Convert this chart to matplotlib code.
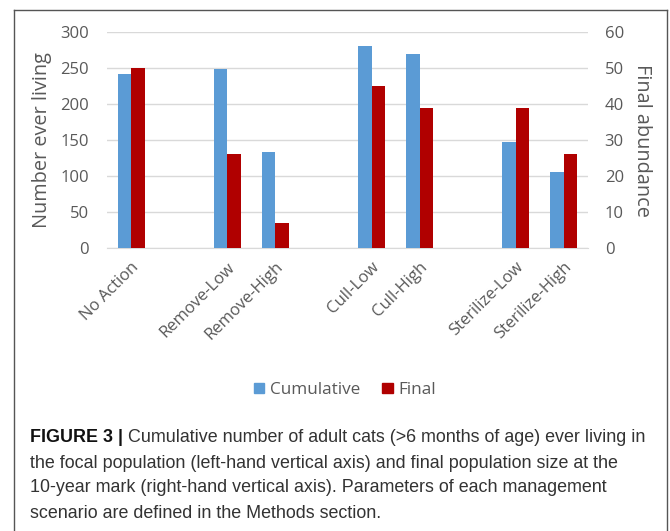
import matplotlib
matplotlib.use("Agg")
import matplotlib.pyplot as plt
from matplotlib.patches import Patch
from matplotlib.lines import Line2D

# Management scenarios (blank slots separate the scenario groups)
categories = ["No Action", "", "Remove-Low", "Remove-High", "",
              "Cull-Low", "Cull-High", "", "Sterilize-Low", "Sterilize-High"]
cumulative = [241, None, 248, 134, None, 281, 269, None, 147, 106]
final = [50, None, 26, 7, None, 45, 39, None, 39, 26]

left_ticks = [0, 50, 100, 150, 200, 250, 300]
right_ticks = [0, 10, 20, 30, 40, 50, 60]

BLUE = "#5B9BD5"
RED = "#B00000"
GREY = "#595959"
chart_font = ["Open Sans", "DejaVu Sans"]
caption_font = ["Liberation Sans Narrow", "Liberation Sans", "DejaVu Sans"]

fig = plt.figure(figsize=(6.70, 5.31), dpi=100)
W, H = 670, 531

# Frame around the figure panel
frame_kw = dict(transform=fig.transFigure, color="#555555", lw=1.0)
fig.add_artist(Line2D([14 / W, 14 / W], [0, 1 - 10 / H], **frame_kw))
fig.add_artist(Line2D([667 / W, 667 / W], [0, 1 - 10 / H], **frame_kw))
fig.add_artist(Line2D([14 / W, 667 / W], [1 - 10 / H, 1 - 10 / H], **frame_kw))

ax = fig.add_axes([107 / W, 1 - 248 / H, (588 - 107) / W, (248 - 32) / H])
ax2 = ax.twinx()

x = list(range(len(categories)))
bw = 0.28
bx = [i - bw / 2 for i, v in zip(x, cumulative) if v is not None]
bv = [v for v in cumulative if v is not None]
rx = [i + bw / 2 for i, v in zip(x, final) if v is not None]
rv = [v for v in final if v is not None]

ax.bar(bx, bv, width=bw, color=BLUE, zorder=3)
ax2.bar(rx, rv, width=bw, color=RED, zorder=3)

ax.set_xlim(-0.5, len(categories) - 0.5)
ax.set_ylim(0, 300)
ax2.set_ylim(0, 60)
ax.set_yticks(left_ticks)
ax2.set_yticks(right_ticks)
ax.grid(axis="y", color="#D9D9D9", lw=1.0, zorder=0)
ax.set_axisbelow(True)

for a in (ax, ax2):
    for s in a.spines.values():
        s.set_visible(False)
ax.spines["bottom"].set_visible(True)
ax.spines["bottom"].set_color("#D9D9D9")

ax.set_xticks(x)
ax.set_xticklabels(categories, rotation=45, ha="right", rotation_mode="anchor",
                   fontsize=12, color=GREY, family=chart_font)
ax.tick_params(axis="x", length=0, pad=8)
ax.tick_params(axis="y", length=0, pad=13, labelsize=12, labelcolor=GREY)
ax2.tick_params(axis="y", length=0, pad=12, labelsize=12, labelcolor=GREY)
for lab in ax.get_yticklabels() + ax2.get_yticklabels():
    lab.set_family(chart_font)

ax.set_ylabel("Number ever living", fontsize=14.3, color=GREY, family=chart_font, labelpad=6)
ax2.set_ylabel("Final abundance", fontsize=14.3, color=GREY, family=chart_font,
               rotation=270, labelpad=20)

handles = [Patch(color=BLUE, label="Cumulative"), Patch(color=RED, label="Final")]
fig.legend(handles=handles, loc="center", bbox_to_anchor=(345 / W, 1 - 390 / H), ncol=2,
           frameon=False, prop={"family": chart_font, "size": 12.3}, labelcolor=GREY,
           handlelength=0.6, handleheight=0.6, handletextpad=0.35, columnspacing=1.3)

# Caption
lines = [
    "Cumulative number of adult cats (>6 months of age) ever living in",
    "the focal population (left-hand vertical axis) and final population size at the",
    "10-year mark (right-hand vertical axis). Parameters of each management",
    "scenario are defined in the Methods section.",
]
ys = [437, 463, 488, 513]
cx = 30 / W
fs = 12.9
t = fig.text(cx, 1 - ys[0] / H, "FIGURE 3 | ", fontsize=fs, fontweight="bold",
             family=caption_font, color="#111111", va="center", ha="left")
fig.canvas.draw()
bb = t.get_window_extent()
fig.text(bb.x1 / W, 1 - ys[0] / H, lines[0], fontsize=fs, family=caption_font,
         color="#333333", va="center", ha="left")
for line, yy in zip(lines[1:], ys[1:]):
    fig.text(cx, 1 - yy / H, line, fontsize=fs, family=caption_font,
             color="#333333", va="center", ha="left")

fig.savefig("out.png", dpi=100)
